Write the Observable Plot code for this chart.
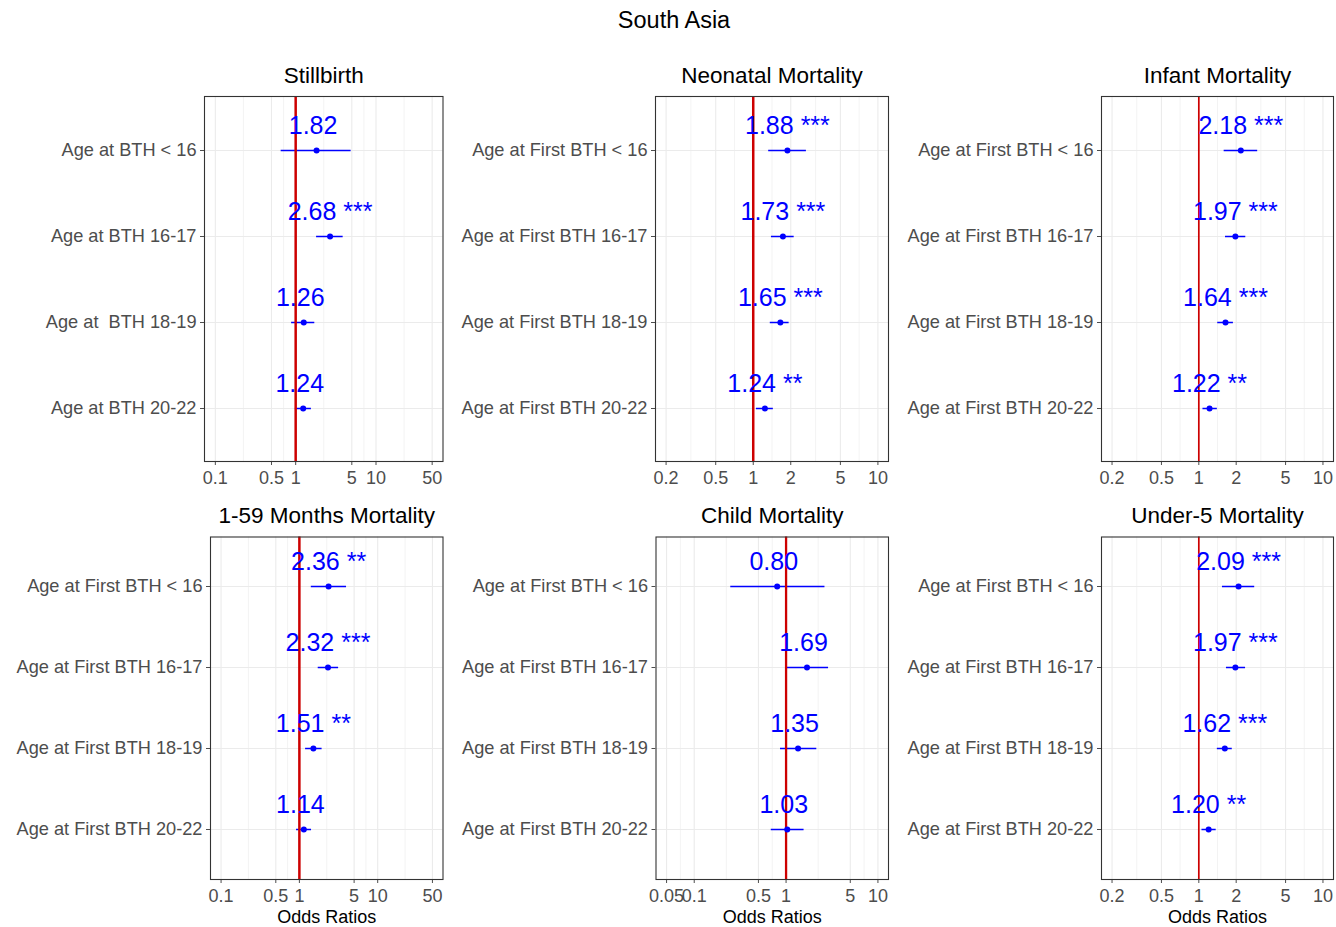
<!DOCTYPE html>
<html><head><meta charset="utf-8">
<script src="https://cdn.jsdelivr.net/npm/d3@7"></script>
<script src="https://cdn.jsdelivr.net/npm/@observablehq/plot@0.6"></script>
<style>
body{margin:0;background:#fff;font-family:"Liberation Sans",Arial,sans-serif;}
#root{position:relative;width:1336px;height:927px;overflow:hidden;background:#fff;}
.panel{position:absolute;}
.panel svg{overflow:visible;}
#title{position:absolute;top:7px;left:674px;transform:translateX(-50%);font-size:23.5px;line-height:27px;color:#000;white-space:nowrap;}
</style></head><body>
<div id="root"><div id="title">South Asia</div></div>
<script>
// ---- categories ----
const catsBirth = ["Age at BTH < 16", "Age at BTH 16-17", "Age at\u00a0 BTH 18-19", "Age at BTH 20-22"];
const catsFirst = ["Age at First BTH < 16", "Age at First BTH 16-17", "Age at First BTH 18-19", "Age at First BTH 20-22"];

// ---- axis breaks / limits ----
const breaksWide = [0.1, 0.5, 1, 5, 10, 50];
const limitsWide = [0.1, 50];
const breaksNarrow = [0.2, 0.5, 1, 2, 5, 10];
const limitsNarrow = [0.2, 10];
const breaksChild = [0.05, 0.1, 0.5, 1, 5, 10];
const limitsChild = [0.05, 10];

// ---- series values (odds ratios, 95% CI, significance) ----
const orStillbirth = [1.82, 2.68, 1.26, 1.24];
const loStillbirth = [0.66, 1.82, 0.89, 0.99];
const hiStillbirth = [4.90, 3.90, 1.73, 1.57];
const starsStillbirth = ["", "***", "", ""];

const orNeonatal = [1.88, 1.73, 1.65, 1.24];
const loNeonatal = [1.33, 1.40, 1.37, 1.06];
const hiNeonatal = [2.67, 2.13, 1.94, 1.45];
const starsNeonatal = ["***", "***", "***", "**"];

const orInfant = [2.18, 1.97, 1.64, 1.22];
const loInfant = [1.60, 1.64, 1.42, 1.08];
const hiInfant = [2.98, 2.39, 1.90, 1.41];
const starsInfant = ["***", "***", "***", "**"];

const orMonths = [2.36, 2.32, 1.51, 1.14];
const loMonths = [1.42, 1.74, 1.20, 0.92];
const hiMonths = [4.00, 3.17, 1.95, 1.43];
const starsMonths = ["**", "***", "**", ""];

const orChild = [0.80, 1.69, 1.35, 1.03];
const loChild = [0.25, 1.01, 0.87, 0.69];
const hiChild = [2.65, 2.90, 2.16, 1.57];
const starsChild = ["", "", "", ""];

const orUnder5 = [2.09, 1.97, 1.62, 1.20];
const loUnder5 = [1.55, 1.67, 1.41, 1.06];
const hiUnder5 = [2.82, 2.38, 1.86, 1.38];
const starsUnder5 = ["***", "***", "***", "**"];

// ---- layout ----
const panels = [
  {title: "Stillbirth", cats: catsBirth, or: orStillbirth, lo: loStillbirth, hi: hiStillbirth, stars: starsStillbirth,
   breaks: breaksWide, limits: limitsWide, L: 204, R: 442.5, T: 96, B: 461, sx0: 0, sx1: 446, sy0: 40, sy1: 495, xlabel: false, refW: 2.5},
  {title: "Neonatal Mortality", cats: catsFirst, or: orNeonatal, lo: loNeonatal, hi: hiNeonatal, stars: starsNeonatal,
   breaks: breaksNarrow, limits: limitsNarrow, L: 655, R: 888, T: 96, B: 461, sx0: 448, sx1: 891, sy0: 40, sy1: 495, xlabel: false, refW: 2.5},
  {title: "Infant Mortality", cats: catsFirst, or: orInfant, lo: loInfant, hi: hiInfant, stars: starsInfant,
   breaks: breaksNarrow, limits: limitsNarrow, L: 1101, R: 1333, T: 96, B: 461, sx0: 894, sx1: 1336, sy0: 40, sy1: 495, xlabel: false, refW: 1.7},
  {title: "1-59 Months Mortality", cats: catsFirst, or: orMonths, lo: loMonths, hi: hiMonths, stars: starsMonths,
   breaks: breaksWide, limits: limitsWide, L: 210, R: 442.5, T: 536.5, B: 879, sx0: 0, sx1: 446, sy0: 495, sy1: 927, xlabel: true, refW: 2.5},
  {title: "Child Mortality", cats: catsFirst, or: orChild, lo: loChild, hi: hiChild, stars: starsChild,
   breaks: breaksChild, limits: limitsChild, L: 655.5, R: 888, T: 536.5, B: 879, sx0: 448, sx1: 891, sy0: 495, sy1: 927, xlabel: true, refW: 2.3},
  {title: "Under-5 Mortality", cats: catsFirst, or: orUnder5, lo: loUnder5, hi: hiUnder5, stars: starsUnder5,
   breaks: breaksNarrow, limits: limitsNarrow, L: 1101, R: 1333, T: 536.5, B: 879, sx0: 894, sx1: 1336, sy0: 495, sy1: 927, xlabel: true, refW: 1.7}
];

const root = document.getElementById("root");
const FONT = '"Liberation Sans", Arial, sans-serif';

for (const p of panels) {
  const rows = p.cats.map((c, i) => ({
    cat: c, or: p.or[i], lo: p.lo[i], hi: p.hi[i],
    label: p.or[i].toFixed(2) + (p.stars[i] ? " " + p.stars[i] : "\u00a0")
  }));
  const la = Math.log10(p.limits[0]), lb = Math.log10(p.limits[1]);
  const e = 0.05 * (lb - la);
  const domain = [Math.pow(10, la - e), Math.pow(10, lb + e)];
  const minor = d3.pairs(p.breaks, (u, v) => Math.sqrt(u * v));
  const fmt = d => String(+d);

  const chart = Plot.plot({
    width: p.sx1 - p.sx0,
    height: p.sy1 - p.sy0,
    marginLeft: p.L - p.sx0,
    marginRight: p.sx1 - p.R,
    marginTop: p.T - p.sy0,
    marginBottom: p.sy1 - p.B,
    style: {fontFamily: FONT, fontSize: "18.2px", color: "#4D4D4D", background: "transparent", overflow: "visible"},
    x: {type: "log", domain, ticks: p.breaks, tickFormat: () => "", tickSize: 4, tickPadding: 7, label: null},
    y: {type: "point", domain: p.cats, padding: 0.6, tickSize: 4, tickPadding: 4, label: null},
    marks: [
      Plot.ruleX(minor, {stroke: "#EBEBEB", strokeWidth: 0.6}),
      Plot.ruleX(p.breaks, {stroke: "#EBEBEB", strokeWidth: 1.1}),
      Plot.ruleY(p.cats, {stroke: "#EBEBEB", strokeWidth: 1.1}),
      Plot.ruleY(rows, {y: "cat", x1: "lo", x2: "hi", stroke: "#0000FF", strokeWidth: 1.5}),
      Plot.ruleX([1], {stroke: "#CD0000", strokeWidth: p.refW}),
      Plot.dot(rows, {x: "or", y: "cat", r: 3, fill: "#0000FF", stroke: "none"}),
      Plot.text(rows, {x: "or", y: "cat", text: "label", dy: -25, fontSize: 25, fill: "#0000FF", lineAnchor: "middle"}),
      Plot.frame({stroke: "#333333", strokeWidth: 1.1}),
      // x tick labels (log breaks, placed through the x scale)
      Plot.text(p.breaks, {x: d => d, text: fmt, frameAnchor: "bottom", lineAnchor: "middle", dy: 17, fontSize: 18, fill: "#4D4D4D"}),
      Plot.text([p.title], {frameAnchor: "top", lineAnchor: "middle", dy: p.T === 96 ? -21 : -21.5, fontSize: 22.5, fill: "#000000"}),
      p.xlabel ? Plot.text(["Odds Ratios"], {frameAnchor: "bottom", lineAnchor: "middle", dy: 38, fontSize: 18, fill: "#000000"}) : null
    ]
  });
  const div = document.createElement("div");
  div.className = "panel";
  div.style.left = p.sx0 + "px";
  div.style.top = p.sy0 + "px";
  div.appendChild(chart);
  root.appendChild(div);
}
</script>
</body></html>
